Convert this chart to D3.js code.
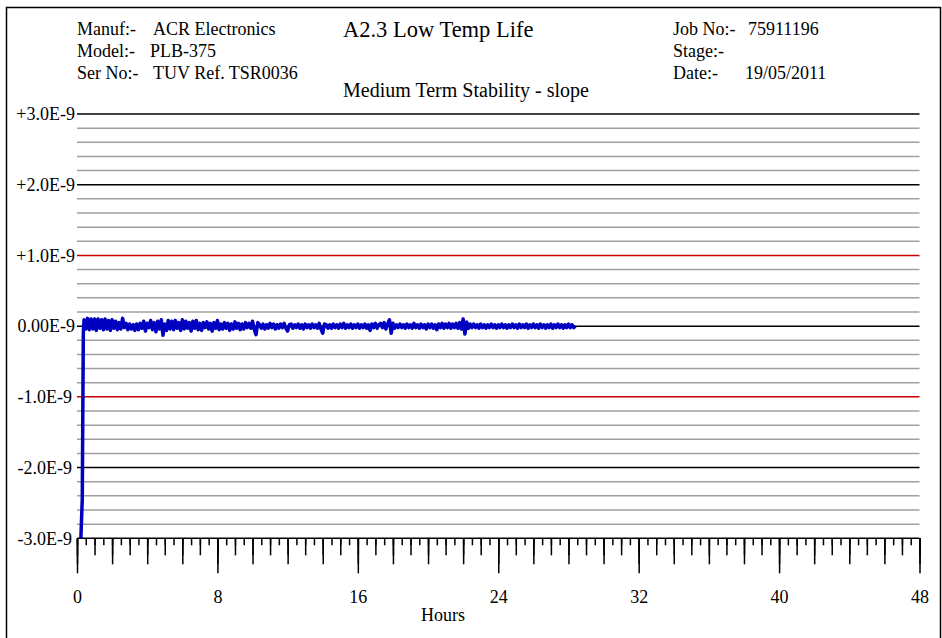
<!DOCTYPE html>
<html>
<head>
<meta charset="utf-8">
<script src="https://cdn.jsdelivr.net/npm/d3@7"></script>
<style>
  html, body { margin: 0; padding: 0; background: #fff; }
  svg { display: block; }
  text { font-family: "Liberation Serif", "Times New Roman", serif; fill: #000; }
</style>
</head>
<body>
<svg id="chart" width="942" height="638"></svg>
<script>
// Header fields
const headerLeft = [
  ["Manuf:-", "ACR Electronics"],
  ["Model:-", "PLB-375"],
  ["Ser No:-", "TUV Ref. TSR0036"]
];
const headerRight = [
  ["Job No:-", "75911196"],
  ["Stage:-", ""],
  ["Date:-", "19/05/2011"]
];
const chartTitle = "A2.3 Low Temp Life";
const chartSubtitle = "Medium Term Stability - slope";
const xAxisTitle = "Hours";

// Axis ranges and labels (y in units of 1E-9)
const xDomain = [0, 48];
const yDomain = [-3, 3];
const xLabelTicks = [0, 8, 16, 24, 32, 40, 48];
const yTickValues = [3, 2, 1, 0, -1, -2, -3];
const yTickLabels = ["+3.0E-9", "+2.0E-9", "+1.0E-9", "0.00E-9", "-1.0E-9", "-2.0E-9", "-3.0E-9"];
const redLevels = [1, -1];

// Warm-up step: hours and slope (1E-9)
const riseHours = [0.22, 0.30, 0.36];
const riseValues = [-3.0, -2.45, -0.10];

// Logged slope, sampled every 0.1 h from 0.4 h (1E-9)
const sampleStart = 0.4;
const sampleStep = 0.1;
const slopeValues = [
  0.09, -0.04, 0.11, -0.05, 0.10, -0.04, 0.10, -0.06, 0.10, -0.03,
  0.09, -0.05, 0.10, -0.04, 0.08, -0.06, 0.09, -0.03, 0.07, -0.05,
  0.05, -0.04, 0.11, -0.02, 0.04, -0.05, 0.03, -0.04, 0.02, -0.06,
  0.03, -0.05, 0.04, -0.03, 0.07, -0.07, 0.04, -0.02, 0.08, -0.05,
  0.05, -0.08, 0.07, -0.04, 0.09, -0.13, 0.03, -0.06, 0.08, -0.04,
  0.07, -0.05, 0.08, -0.03, 0.05, -0.06, 0.09, -0.04, 0.07, -0.03,
  0.05, -0.07, 0.07, -0.03, 0.08, -0.05, 0.04, -0.06, 0.05, -0.02,
  0.06, -0.04, 0.04, -0.07, 0.05, -0.03, 0.08, -0.05, 0.03, -0.04,
  0.05, -0.03, 0.04, -0.06, 0.03, -0.04, 0.06, -0.03, 0.04, -0.05,
  0.03, -0.04, 0.05, -0.02, 0.04, -0.03, 0.07, -0.05, -0.12, 0.05,
  0.02, -0.03, 0.03, -0.04, 0.02, -0.03, 0.04, -0.02, 0.03, -0.04,
  0.02, -0.03, 0.03, -0.02, 0.04, -0.03, -0.07, 0.02, 0.03, -0.03,
  0.02, -0.02, 0.03, -0.03, 0.02, -0.04, 0.03, -0.02, 0.02, -0.03,
  0.03, -0.02, 0.02, -0.03, 0.04, -0.04, -0.10, 0.03, 0.02, -0.03,
  0.02, -0.03, 0.03, -0.02, 0.02, -0.03, 0.03, -0.02, 0.04, -0.03,
  0.02, -0.02, 0.03, -0.03, 0.02, -0.02, 0.03, -0.03, 0.02, -0.02,
  0.03, -0.03, 0.02, -0.06, 0.03, -0.02, 0.04, -0.03, 0.02, 0.04,
  -0.02, 0.05, -0.04, 0.03, 0.09, -0.10, 0.04, -0.03, 0.02, -0.02,
  0.03, -0.02, 0.02, -0.03, 0.03, -0.02, 0.02, -0.03, 0.04, -0.02,
  0.02, -0.03, 0.03, -0.02, 0.02, -0.04, 0.03, -0.02, 0.03, -0.03,
  0.02, -0.05, 0.03, -0.02, 0.04, -0.03, 0.03, -0.02, 0.04, -0.03,
  0.03, -0.02, 0.04, -0.03, 0.05, -0.04, 0.10, -0.11, 0.06, -0.03,
  0.03, -0.02, 0.03, -0.02, 0.02, -0.03, 0.03, -0.02, 0.02, -0.03,
  0.02, -0.02, 0.03, -0.02, 0.02, -0.03, 0.02, -0.02, 0.03, -0.02,
  0.02, -0.03, 0.02, -0.02, 0.03, -0.02, 0.02, -0.03, 0.03, -0.02,
  0.02, -0.02, 0.03, -0.03, 0.02, -0.02, 0.03, -0.02, 0.02, -0.03,
  0.03, -0.02, 0.02, -0.03, 0.02, -0.02, 0.03, -0.03, 0.02, -0.02,
  0.03, -0.02, 0.02, -0.03, 0.02, -0.02, 0.03, -0.02, 0.02, -0.02,
  0.00
];

const svg = d3.select("#chart");
const W = 942, H = 638;
const plot = { left: 77, right: 919.5, top: 114, bottom: 538.3 };

const x = d3.scaleLinear().domain(xDomain).range([plot.left, plot.right]);
const y = d3.scaleLinear().domain(yDomain).range([plot.bottom, plot.top]);

// Outer frame
svg.append("path")
  .attr("d", `M6.5,${H} V7.5 H940.5 V${H}`)
  .attr("fill", "none").attr("stroke", "#000").attr("stroke-width", 1.5);

// Horizontal grid: minor every 0.2, major every 1
const minorLevels = d3.range(-3, 3.001, 0.2).map(v => Math.round(v * 10) / 10)
  .filter(v => Math.abs(v - Math.round(v)) > 1e-6);
svg.append("g").selectAll("line").data(minorLevels).join("line")
  .attr("x1", plot.left).attr("x2", plot.right)
  .attr("y1", d => y(d)).attr("y2", d => y(d))
  .attr("stroke", "#a0a0a0").attr("stroke-width", 1.5);

svg.append("g").selectAll("line").data(yTickValues).join("line")
  .attr("x1", plot.left).attr("x2", plot.right)
  .attr("y1", d => y(d)).attr("y2", d => y(d))
  .attr("stroke", d => redLevels.includes(d) ? "#cc0000" : "#000")
  .attr("stroke-width", 1.5);

// Y axis labels
const yAxis = d3.axisLeft(y)
  .tickValues(yTickValues)
  .tickSize(0).tickPadding(2)
  .tickFormat((d, i) => yTickLabels[i]);
const gy = svg.append("g").attr("transform", `translate(${plot.left},0)`).call(yAxis);
gy.select(".domain").remove();
gy.selectAll("text").attr("font-size", 18)
  .attr("dx", d => d < 0 ? -3 : 0)
  .attr("font-family", "Liberation Serif, Times New Roman, serif");

// Bottom ruler ticks: half hour, hour, two hours, eight hours
const tickSets = [
  { step: 0.5, size: 7 },
  { step: 1, size: 17 },
  { step: 2, size: 26 },
  { step: 8, size: 35 }
];
tickSets.forEach((t, k) => {
  const last = k === tickSets.length - 1;
  const vals = last ? xLabelTicks : d3.range(xDomain[0], xDomain[1] + 0.001, t.step);
  const ax = d3.axisBottom(x).tickValues(vals).tickSize(t.size).tickSizeOuter(0)
    .tickFormat(last ? d3.format("d") : "");
  if (last) ax.tickPadding(17);
  const g = svg.append("g").attr("transform", `translate(0,${plot.bottom})`).call(ax);
  g.select(".domain").remove();
  g.selectAll("line").attr("stroke", "#000").attr("stroke-width", 1.5);
  g.selectAll("text").attr("font-size", 18)
    .attr("font-family", "Liberation Serif, Times New Roman, serif");
});

// Slope trace
const trace = riseHours.map((h, i) => [h, riseValues[i]])
  .concat(slopeValues.map((v, i) => [sampleStart + i * sampleStep, v]));
svg.append("path")
  .datum(trace)
  .attr("fill", "none")
  .attr("stroke", "#0000c0")
  .attr("stroke-width", 3.5)
  .attr("stroke-linejoin", "round")
  .attr("d", d3.line().x(d => x(d[0])).y(d => y(d[1])));

// Header text
const hdr = svg.append("g").attr("font-size", 18);
headerLeft.forEach((row, i) => {
  hdr.append("text").attr("x", 77).attr("y", 35 + i * 22).text(row[0]);
  hdr.append("text").attr("x", [153, 150, 153][i]).attr("y", 35 + i * 22).text(row[1]);
});
headerRight.forEach((row, i) => {
  hdr.append("text").attr("x", 673).attr("y", 35 + i * 22).text(row[0]);
  hdr.append("text").attr("x", [748, 748, 745][i]).attr("y", 35 + i * 22).text(row[1]);
});
svg.append("text").attr("x", 343).attr("y", 37).attr("font-size", 22.5).text(chartTitle);
svg.append("text").attr("x", 343).attr("y", 97).attr("font-size", 20).text(chartSubtitle);

// X axis title
svg.append("text").attr("x", 443).attr("y", 621).attr("font-size", 18)
  .attr("text-anchor", "middle").text(xAxisTitle);
</script>
</body>
</html>
